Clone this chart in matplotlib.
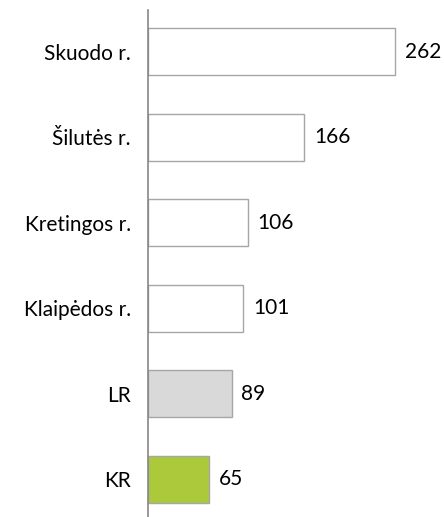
import matplotlib
matplotlib.use("Agg")
import matplotlib.pyplot as plt

categories = ["Skuodo r.", "Šilutės r.", "Kretingos r.", "Klaipėdos r.", "LR", "KR"]
values = [262, 166, 106, 101, 89, 65]
colors = ["#ffffff", "#ffffff", "#ffffff", "#ffffff", "#d9d9d9", "#acc93b"]

plt.rcParams['font.family'] = ['Lato', 'DejaVu Sans']

fig = plt.figure(figsize=(4.44, 5.17), dpi=100)
ax = fig.add_axes([147.5/444, 0, 1 - 147.5/444, 1 - 10/517])

ypos = list(range(len(categories)))
ax.barh(ypos, values, height=0.55, color=colors, edgecolor="#a6a6a6", linewidth=1.0)
for y, v in zip(ypos, values):
    ax.text(v + 10.5, y, str(v), va="center", ha="left", fontsize=15, color="#000000")

ax.set_xlim(0, 314)
ax.set_ylim(5.44, -0.485)
ax.set_yticks(ypos)
ax.set_yticklabels(categories, fontsize=15)
ax.tick_params(axis="y", length=0, pad=12)
ax.set_xticks([])
for s in ["top", "right", "bottom"]:
    ax.spines[s].set_visible(False)
ax.spines["left"].set_color("#868686")
ax.spines["left"].set_linewidth(1.2)

fig.savefig("out.png", dpi=100)
